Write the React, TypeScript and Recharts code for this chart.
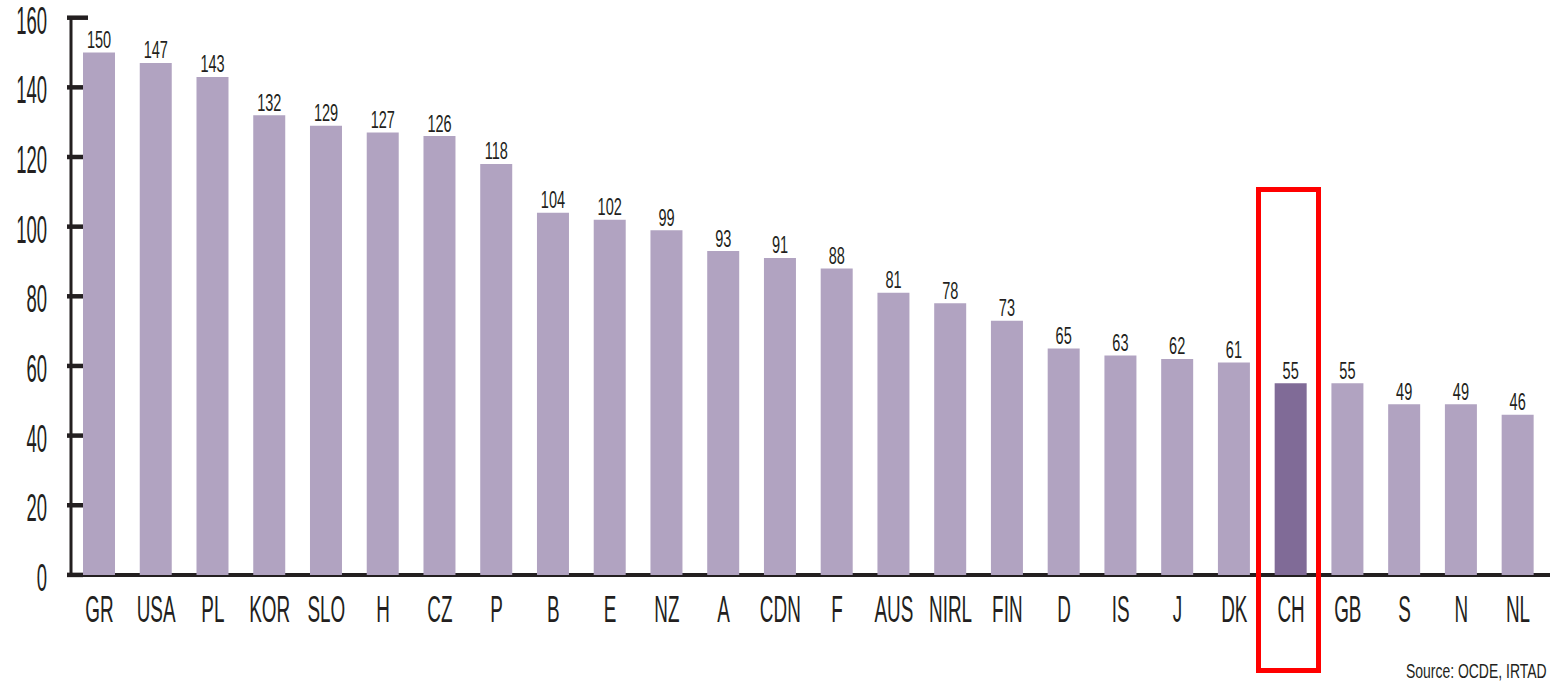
import React from "react";
import { BarChart, Bar, XAxis, YAxis, Cell, LabelList } from "recharts";

const countries = ["GR", "USA", "PL", "KOR", "SLO", "H", "CZ", "P", "B", "E", "NZ", "A", "CDN", "F", "AUS", "NIRL", "FIN", "D", "IS", "J", "DK", "CH", "GB", "S", "N", "NL"];
const values = [150, 147, 143, 132, 129, 127, 126, 118, 104, 102, 99, 93, 91, 88, 81, 78, 73, 65, 63, 62, 61, 55, 55, 49, 49, 46];
const yTicks = [0, 20, 40, 60, 80, 100, 120, 140, 160];
const highlighted = "CH";
const sourceNote = "Source: OCDE, IRTAD";

const ink = "#231f20";
const barColor = "#b1a3c1";
const highlightColor = "#806b97";
const font = "'Liberation Sans', Arial, sans-serif";

const data = countries.map((country, i) => ({ country, value: values[i] }));

function YTick({ x, y, payload }: any) {
    const top = payload.value === 160
    return (
        <g>
            <line x1={x - 4} x2={x + (top ? 17 : 12)} y1={y} y2={y} stroke={ink} strokeWidth={4.5} />
            <g transform={`translate(${x - 24},${y + 16}) scale(0.5,1.04)`}>
                <text textAnchor="end" fontSize={37} fill={ink} fontFamily={font}>{payload.value}</text>
            </g>
        </g>
    )
}

function XTick({ x, y, payload }: any) {
    return (
        <g transform={`translate(${x},${y + 47}) scale(0.54,1.04)`}>
            <text textAnchor="middle" fontSize={35} fill={ink} fontFamily={font}>{payload.value}</text>
        </g>
    )
}

function ValueLabel({ x, y, width, value }: any) {
    const cx = Number(x) + Number(width) / 2
    return (
        <g transform={`translate(${cx},${Number(y) - 4.5}) scale(0.66,1.05)`}>
            <text textAnchor="middle" fontSize={22} fill={ink} fontFamily={font}>{value}</text>
        </g>
    )
}

export default function App() {
    return (
        <div style={{ position: "absolute", left: 0, top: 0, width: 1550, height: 682, background: "#fff" }}>
            {/* baseline runs from the y axis ticks to the right edge */}
            <div style={{ position: "absolute", left: 67, top: 572.5, width: 1483, height: 4.5, background: ink }} />
            <div style={{ position: "absolute", left: 0, top: 0 }}>
                <BarChart width={1550} height={682} data={data} margin={{ top: 17.7, right: 3.6, bottom: 47.1, left: 0 }}>
                    <XAxis
                        dataKey="country"
                        axisLine={false}
                        tickLine={false}
                        tickSize={0}
                        tickMargin={0}
                        interval={0}
                        height={60}
                        tick={<XTick />}
                    />
                    <YAxis
                        domain={[0, 160]}
                        ticks={yTicks}
                        width={71}
                        axisLine={{ stroke: ink, strokeWidth: 3 }}
                        tickLine={false}
                        tickSize={0}
                        tickMargin={0}
                        interval={0}
                        tick={<YTick />}
                    />
                    <Bar dataKey="value" barSize={32} isAnimationActive={false}>
                        {data.map((d, i) => (
                            <Cell key={`cell-${i}`} fill={d.country === highlighted ? highlightColor : barColor} />
                        ))}
                        <LabelList dataKey="value" content={<ValueLabel />} />
                    </Bar>
                </BarChart>
            </div>
            {/* red box around CH */}
            <div style={{ position: "absolute", left: 1256, top: 187, width: 65, height: 486, border: "5px solid #ff0000", boxSizing: "border-box" }} />
            <div
                style={{
                    position: "absolute",
                    right: 3,
                    top: 660,
                    fontSize: 21,
                    lineHeight: "21px",
                    fontFamily: font,
                    color: ink,
                    whiteSpace: "nowrap",
                    transform: "scaleX(0.665)",
                    transformOrigin: "right center",
                }}
            >
                {sourceNote}
            </div>
        </div>
    )
}
